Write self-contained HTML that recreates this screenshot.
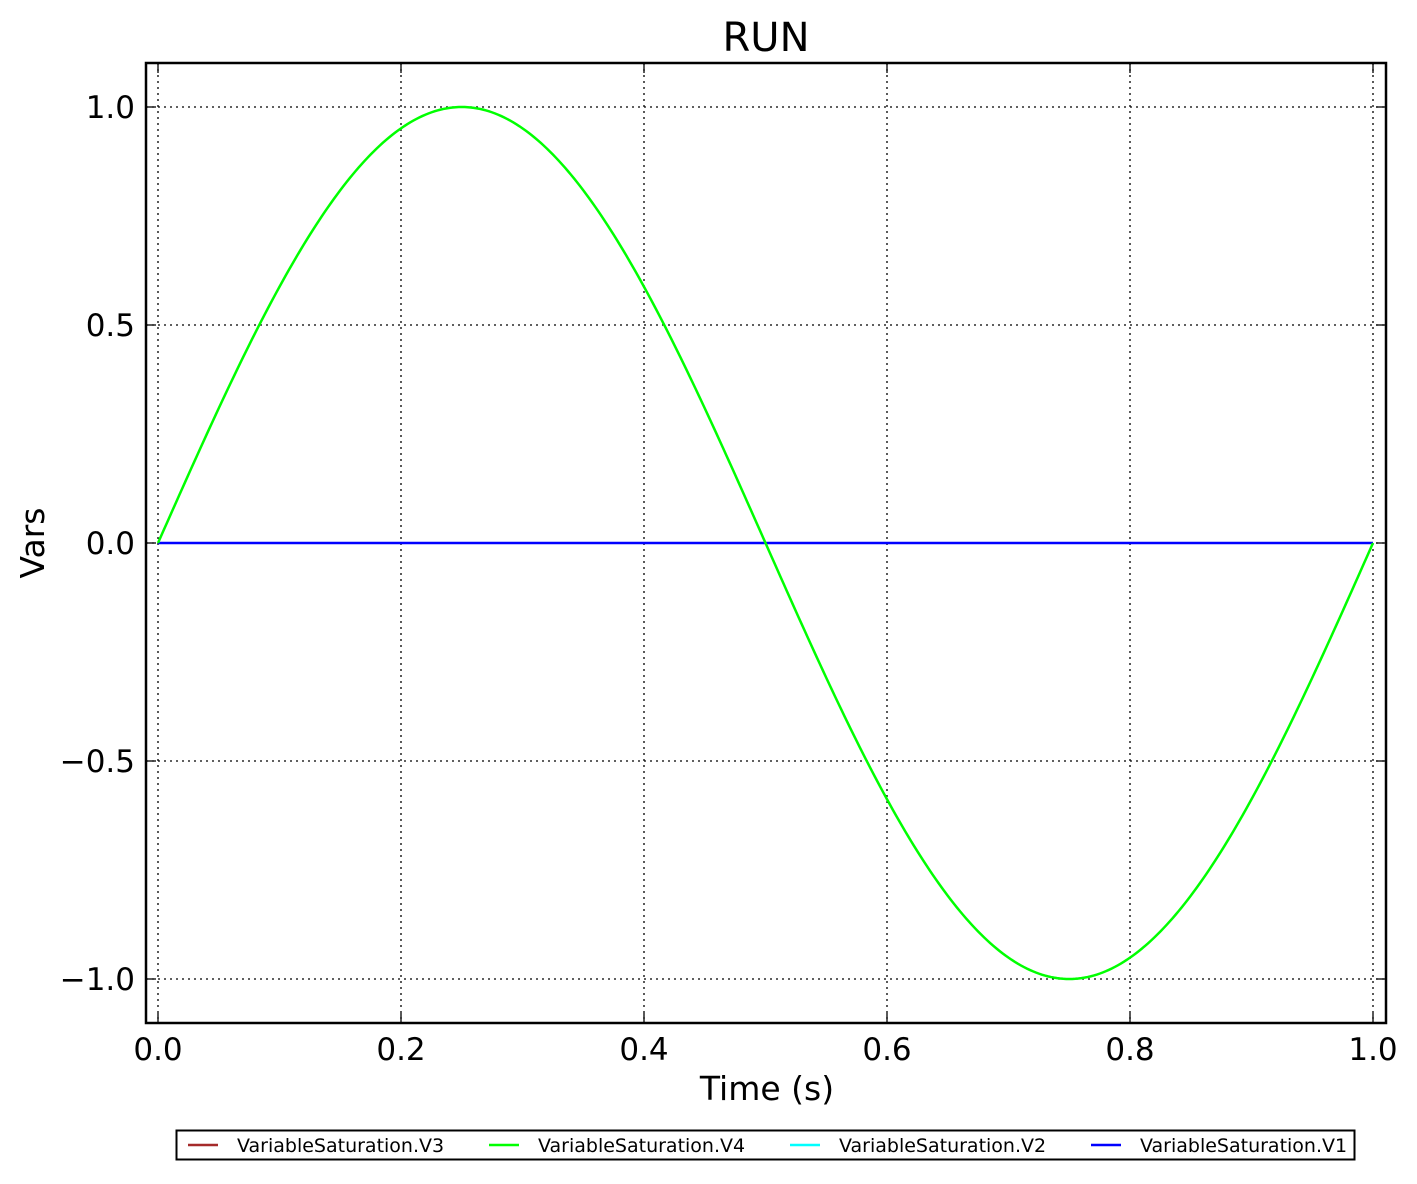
<!DOCTYPE html>
<html><head><meta charset="utf-8"><style>
html,body{margin:0;padding:0;background:#fff;}
svg text{font-family:"DejaVu Sans","Liberation Sans",sans-serif;fill:#000;}
</style></head><body>
<svg id="s" width="1417" height="1179" xmlns="http://www.w3.org/2000/svg">
<rect width="1417" height="1179" fill="#fff"/>
<g stroke="#000" stroke-width="1.3" stroke-dasharray="2,4">
<line x1="158" y1="63" x2="158" y2="1023"/>
<line x1="401" y1="63" x2="401" y2="1023"/>
<line x1="644" y1="63" x2="644" y2="1023"/>
<line x1="887" y1="63" x2="887" y2="1023"/>
<line x1="1130" y1="63" x2="1130" y2="1023"/>
<line x1="1373" y1="63" x2="1373" y2="1023"/>
<line x1="146" y1="107" x2="1386" y2="107"/>
<line x1="146" y1="325" x2="1386" y2="325"/>
<line x1="146" y1="543" x2="1386" y2="543"/>
<line x1="146" y1="761" x2="1386" y2="761"/>
<line x1="146" y1="979" x2="1386" y2="979"/>
</g>
<g id="ticks" stroke="#000" stroke-width="1.3"></g>
<line x1="158" y1="543" x2="1373" y2="543" stroke="#0000ff" stroke-width="2.5"/>
<path id="sine" fill="none" stroke="#00ff00" stroke-width="2.5"/>
<rect x="146" y="63" width="1240" height="960" fill="none" stroke="#000" stroke-width="2.5"/>
<text x="766" y="51" font-size="40" text-anchor="middle">RUN</text>
<g font-size="31" text-anchor="end">
<text x="135" y="118">1.0</text>
<text x="135" y="336">0.5</text>
<text x="135" y="554">0.0</text>
<text x="135" y="772">−0.5</text>
<text x="135" y="990">−1.0</text>
</g>
<g font-size="31" text-anchor="middle">
<text x="158" y="1060">0.0</text>
<text x="401" y="1060">0.2</text>
<text x="644" y="1060">0.4</text>
<text x="887" y="1060">0.6</text>
<text x="1130" y="1060">0.8</text>
<text x="1373" y="1060">1.0</text>
</g>
<text x="767" y="1100" font-size="33" text-anchor="middle">Time (s)</text>
<text transform="translate(44,543) rotate(-90)" font-size="33" text-anchor="middle">Vars</text>
<rect x="176.5" y="1130.5" width="1178" height="29" fill="#fff" stroke="#000" stroke-width="2"/>
<g stroke-width="2.5">
<line x1="188" y1="1145" x2="218" y2="1145" stroke="#a52a2a"/>
<line x1="489" y1="1145" x2="519" y2="1145" stroke="#00ff00"/>
<line x1="790" y1="1145" x2="820" y2="1145" stroke="#00ffff"/>
<line x1="1091" y1="1145" x2="1121" y2="1145" stroke="#0000ff"/>
</g>
<g font-size="19">
<text x="237" y="1152">VariableSaturation.V3</text>
<text x="538" y="1152">VariableSaturation.V4</text>
<text x="839" y="1152">VariableSaturation.V2</text>
<text x="1140" y="1152">VariableSaturation.V1</text>
</g>
</svg>
<script>
var d="";for(var i=0;i<=400;i++){var t=i/400;var x=158+1215*t,y=543-436*Math.sin(2*Math.PI*t);d+=(i?"L":"M")+x.toFixed(2)+","+y.toFixed(2);}
document.getElementById("sine").setAttribute("d",d);
var g=document.getElementById("ticks"),h="";
[158,401,644,887,1130,1373].forEach(function(x){h+='<line x1="'+x+'" y1="1023" x2="'+x+'" y2="1013"/><line x1="'+x+'" y1="63" x2="'+x+'" y2="73"/>';});
[107,325,543,761,979].forEach(function(y){h+='<line x1="146" y1="'+y+'" x2="156" y2="'+y+'"/><line x1="1386" y1="'+y+'" x2="1376" y2="'+y+'"/>';});
g.innerHTML=h;
</script>
</body></html>
